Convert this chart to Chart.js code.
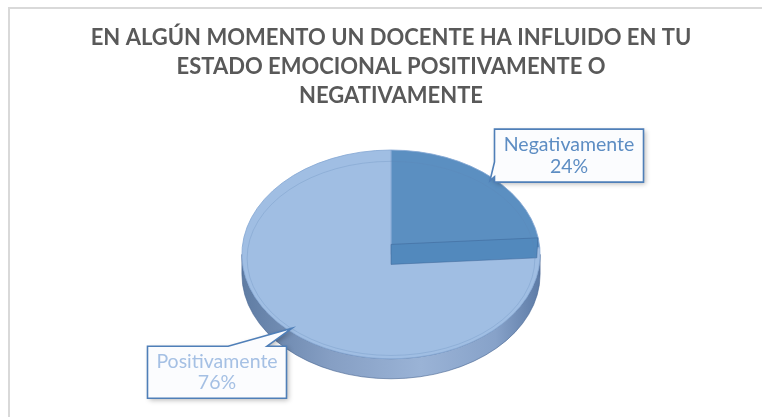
<!DOCTYPE html>
<html>
<head>
<meta charset="utf-8">
<script src="https://cdn.jsdelivr.net/npm/chart.js@4/dist/chart.umd.min.js"></script>
<style>
  html,body{margin:0;padding:0;background:#fff;}
  #wrap{width:762px;height:417px;position:relative;}
</style>
</head>
<body>
<div id="wrap"><canvas id="chartPie" width="762" height="417"></canvas></div>
<script>
// ---- datos ----
const labels = ["Negativamente", "Positivamente"];
const values = [24, 76];
const sliceColors = ["#5b8fc1", "#a0bee3"];
const labelColors = ["#5d8dc3", "#a5c0e4"];
const titleLines = [
  "EN ALGÚN MOMENTO UN DOCENTE HA INFLUIDO EN TU",
  "ESTADO EMOCIONAL POSITIVAMENTE O",
  "NEGATIVAMENTE"
];
// posicion de las etiquetas (relativa al punto del sector)
const calloutLayout = [
  {dx: 79, dy: -25, w: 149, h: 53, edge: "left", b: [0.62, 0.9]},
  {dx: -75, dy: 44, w: 139, h: 52, edge: "top", b: [0.58, 0.86]}
];

// marco gris del grafico
const framePlugin = {
  id: "frame",
  beforeDraw(chart){
    const c = chart.ctx;
    c.save();
    c.fillStyle = "#fff";
    c.fillRect(0, 0, chart.width, chart.height);
    c.strokeStyle = "#d9d9d9";
    c.lineWidth = 2;
    c.beginPath();
    c.moveTo(9, chart.height); c.lineTo(9, 8); c.lineTo(chart.width, 8);
    c.stroke();
    c.restore();
  }
};

// pie "3D": inclina el pastel y dibuja la pared
const pie3d = {
  id: "pie3d",
  geo(chart, opts){
    const a = chart.getDatasetMeta(0).data[0];
    return {x: a.x, y: a.y, r: a.outerRadius, cy: a.y + opts.shift, k: opts.tilt, d: opts.depth};
  },
  beforeDatasetsDraw(chart, args, opts){
    const c = chart.ctx, g = this.geo(chart, opts);
    const grad = c.createLinearGradient(g.x - g.r, 0, g.x + g.r, 0);
    grad.addColorStop(0, "#5f7ca3");
    grad.addColorStop(0.3, "#869fc4");
    grad.addColorStop(0.6, "#9ab3d6");
    grad.addColorStop(0.85, "#87a2c9");
    grad.addColorStop(1, "#5d7ba6");
    c.save();
    chart.getDatasetMeta(0).data.forEach(arc => {
      [0, 2*Math.PI, -2*Math.PI].forEach(off => {
        const a1 = Math.max(arc.startAngle + off, 0), a2 = Math.min(arc.endAngle + off, Math.PI);
        if(a2 <= a1) return;
        c.beginPath();
        c.ellipse(g.x, g.cy, g.r, g.r*g.k, 0, a1, a2);
        c.ellipse(g.x, g.cy + g.d, g.r, g.r*g.k, 0, a2, a1, true);
        c.closePath();
        c.fillStyle = grad; c.fill();
        c.strokeStyle = "rgba(70,100,145,0.6)"; c.lineWidth = 1; c.stroke();
      });
    });
    c.restore();
    c.save();
    c.translate(g.x, g.cy); c.scale(1, g.k); c.translate(-g.x, -g.y);
  },
  afterDatasetsDraw(chart, args, opts){
    const c = chart.ctx;
    c.restore();
    const g = this.geo(chart, opts);
    // cara del corte del sector negativo
    const e = chart.getDatasetMeta(0).data[0].endAngle;
    const ex = g.x + g.r*Math.cos(e), ey = g.cy + g.r*g.k*Math.sin(e);
    c.save();
    c.beginPath();
    c.moveTo(g.x, g.cy - g.d/2); c.lineTo(ex - 2, ey - g.d/2);
    c.lineTo(ex - 3, ey + g.d/2); c.lineTo(g.x, g.cy + g.d/2);
    c.closePath();
    c.fillStyle = "#5289bd"; c.fill();
    c.strokeStyle = "rgba(60,100,150,0.5)"; c.lineWidth = 1; c.stroke();
    // borde interior tenue
    c.beginPath();
    c.ellipse(g.x, g.cy + 4, g.r*0.965, g.r*g.k*0.93, 0, 0, 2*Math.PI);
    c.strokeStyle = "rgba(90,130,180,0.25)"; c.stroke();
    c.restore();
  },
  afterDraw(chart, args, opts){
    const c = chart.ctx, g = this.geo(chart, opts);
    const total = values.reduce((s, v) => s + v, 0);
    chart.getDatasetMeta(0).data.forEach((arc, i) => {
      const L = calloutLayout[i];
      const m = (arc.startAngle + arc.endAngle)/2;
      const tx = g.x + g.r*0.97*Math.cos(m), ty = g.cy + g.r*g.k*0.97*Math.sin(m);
      const bx = tx + L.dx - L.w/2, by = ty + L.dy - L.h/2;
      c.save();
      c.beginPath();
      if(L.edge === "left"){
        c.moveTo(bx, by); c.lineTo(bx + L.w, by); c.lineTo(bx + L.w, by + L.h); c.lineTo(bx, by + L.h);
        c.lineTo(bx, by + L.h*L.b[1]); c.lineTo(tx, ty); c.lineTo(bx, by + L.h*L.b[0]);
      } else {
        c.moveTo(bx, by); c.lineTo(bx + L.w*L.b[0], by); c.lineTo(tx, ty); c.lineTo(bx + L.w*L.b[1], by);
        c.lineTo(bx + L.w, by); c.lineTo(bx + L.w, by + L.h); c.lineTo(bx, by + L.h);
      }
      c.closePath();
      c.shadowColor = "rgba(0,0,0,0.28)"; c.shadowBlur = 5; c.shadowOffsetX = 2; c.shadowOffsetY = 2;
      c.fillStyle = "#fbfcfe"; c.fill();
      c.shadowColor = "transparent";
      c.strokeStyle = "#4f7fb8"; c.lineWidth = 1.6; c.lineJoin = "miter"; c.stroke();
      c.fillStyle = labelColors[i];
      c.font = "19.5px Lato";
      c.textAlign = "center"; c.textBaseline = "middle";
      c.fillText(labels[i], bx + L.w/2, by + L.h*0.29);
      c.fillText(Math.round(values[i]/total*100) + "%", bx + L.w/2, by + L.h*0.71);
      c.restore();
    });
  }
};

const chartPie = new Chart(document.getElementById("chartPie"), {
  type: "pie",
  data: {
    labels: labels,
    datasets: [{data: values, backgroundColor: sliceColors, borderColor: "#87a9d4", borderWidth: 1}]
  },
  options: {
    responsive: false,
    animation: false,
    events: [],
    layout: {padding: {left: 20}},
    plugins: {
      legend: {display: false},
      tooltip: {enabled: false},
      title: {
        display: true, text: titleLines, color: "#595959",
        font: {family: "Lato", size: 22, weight: "bold", lineHeight: 1.3},
        padding: {top: 24, bottom: 8}
      },
      pie3d: {tilt: 0.7, depth: 20, shift: -13}
    }
  },
  plugins: [framePlugin, pie3d]
});
</script>
</body>
</html>
